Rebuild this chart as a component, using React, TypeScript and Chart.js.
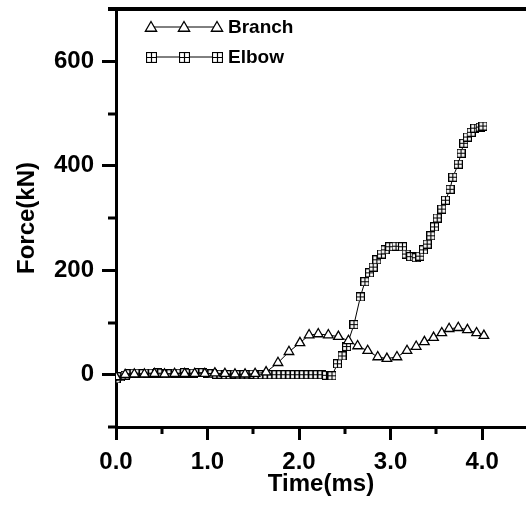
import React, { useEffect, useRef } from 'react';
import { Chart, registerables } from 'chart.js';

Chart.register(...registerables);

const seriesNames = ['Branch', 'Elbow'];

const branchTime = [
  0, 0.1, 0.2, 0.31, 0.42, 0.53, 0.64, 0.75, 0.86, 0.97, 1.08, 1.19, 1.3, 1.41, 1.52, 1.64,
  1.77, 1.89, 2.01, 2.11, 2.21, 2.32, 2.43, 2.54, 2.64, 2.75, 2.86, 2.96, 3.07, 3.18, 3.28,
  3.37, 3.47, 3.56, 3.64, 3.74, 3.84, 3.94, 4.02,
];
const branchForce = [
  -4, 0, 1, 1, 2, 1, 2, 2, 2, 2, 3, 2, 1, 1, 2, 5,
  23, 44, 61, 76, 78, 76, 73, 65, 55, 46, 34, 31, 34, 46, 54,
  63, 71, 80, 88, 90, 86, 80, 75,
];

const elbowTime = [
  0, 0.05, 0.1, 0.15, 0.2, 0.25, 0.3, 0.35, 0.4, 0.45, 0.5, 0.55, 0.6, 0.65, 0.7, 0.75,
  0.8, 0.85, 0.9, 0.95, 1.0, 1.05, 1.1, 1.15, 1.2, 1.25, 1.3, 1.35, 1.4, 1.45, 1.5, 1.55,
  1.6, 1.65, 1.7, 1.75, 1.8, 1.85, 1.9, 1.95, 2.0, 2.05, 2.1, 2.15, 2.2, 2.25, 2.3,
  2.36, 2.42, 2.47, 2.52, 2.6, 2.67, 2.72, 2.77, 2.81, 2.85, 2.9, 2.94, 2.99, 3.06, 3.13,
  3.17, 3.22, 3.28, 3.32, 3.36, 3.4, 3.44, 3.48, 3.51, 3.56, 3.6, 3.65, 3.68, 3.74, 3.77,
  3.8, 3.84, 3.88, 3.92, 3.98, 4.01,
];
const elbowForce = [
  -8, -4, -1, 2, 3, 3, 2, 3, 3, 4, 3, 2, 2, 3, 3, 4,
  3, 3, 4, 4, 3, 2, 1, 1, 0, 0, 1, 0, 0, 0, 1, 0,
  0, 0, 0, 0, 0, 0, 0, 0, 0, 0, 0, 0, 0, 0, -1,
  -2, 21, 36, 54, 96, 149, 178, 195, 206, 220, 231, 239, 245, 246, 245,
  231, 226, 224, 227, 239, 250, 266, 283, 300, 317, 334, 355, 378, 403, 424,
  443, 455, 464, 472, 474, 476,
];

const xMajorTicks = [0, 1, 2, 3, 4];
const xMinorTicks = [0.5, 1.5, 2.5, 3.5];
const yMajorTicks = [0, 200, 400, 600];
const yMinorTicks = [-100, 100, 300, 500, 700];

const FONT = '"Liberation Sans", Arial, sans-serif';

function makeSquare(size: number): HTMLCanvasElement {
  const c = document.createElement('canvas');
  c.width = size;
  c.height = size;
  const g = c.getContext('2d')!;
  g.fillStyle = '#fff';
  g.fillRect(0, 0, size, size);
  g.strokeStyle = '#000';
  g.lineWidth = 1.2;
  g.strokeRect(0.5, 0.5, size - 1, size - 1);
  const m = Math.floor(size / 2) + 0.5;
  g.beginPath();
  g.moveTo(m, 0.5);
  g.lineTo(m, size - 0.5);
  g.moveTo(0.5, m);
  g.lineTo(size - 0.5, m);
  g.stroke();
  return c;
}

function drawTriangle(ctx: CanvasRenderingContext2D, x: number, y: number, r: number) {
  ctx.beginPath();
  ctx.moveTo(x, y - r);
  ctx.lineTo(x + r * Math.sin(Math.PI * 2 / 3), y + r * 0.5);
  ctx.lineTo(x - r * Math.sin(Math.PI * 2 / 3), y + r * 0.5);
  ctx.closePath();
  ctx.fillStyle = '#fff';
  ctx.fill();
  ctx.lineWidth = 1.3;
  ctx.strokeStyle = '#000';
  ctx.stroke();
}

export default function App() {
  const ref = useRef<HTMLCanvasElement | null>(null);

  useEffect(() => {
    if (!ref.current) return;
    const squareMarker = makeSquare(9);
    const legendSquare = makeSquare(11);

    const decor = {
      id: 'decor',
      afterDraw(chart: any) {
        const { ctx, chartArea, scales } = chart;
        const xs = scales.x;
        const ys = scales.y;
        ctx.save();
        ctx.strokeStyle = '#000';
        ctx.lineWidth = 3;
        ctx.beginPath();
        yMinorTicks.forEach((v) => {
          const py = Math.round(ys.getPixelForValue(v));
          ctx.moveTo(chartArea.left - 8, py);
          ctx.lineTo(chartArea.left, py);
        });
        xMinorTicks.forEach((v) => {
          const px = Math.round(xs.getPixelForValue(v));
          ctx.moveTo(px, chartArea.bottom);
          ctx.lineTo(px, chartArea.bottom + 7);
        });
        ctx.stroke();
        ctx.beginPath();
        ctx.lineWidth = 4;
        ctx.moveTo(chartArea.left - 8, chartArea.top);
        ctx.lineTo(chartArea.right, chartArea.top);
        ctx.stroke();

        // legend
        const rows = [27, 57];
        const x0 = chartArea.left + 35;
        const x1 = chartArea.left + 101;
        seriesNames.forEach((name, i) => {
          const y = rows[i];
          ctx.beginPath();
          ctx.lineWidth = 1;
          ctx.strokeStyle = '#000';
          ctx.moveTo(x0, y);
          ctx.lineTo(x1, y);
          ctx.stroke();
          [x0, (x0 + x1) / 2, x1].forEach((mx) => {
            if (i === 0) drawTriangle(ctx, mx, y + 1, 6.5);
            else ctx.drawImage(legendSquare, Math.round(mx - 5.5), Math.round(y - 5.5));
          });
          ctx.fillStyle = '#000';
          ctx.font = `bold 19px ${FONT}`;
          ctx.textBaseline = 'middle';
          ctx.textAlign = 'left';
          ctx.fillText(name, x1 + 11, y + 1);
        });
        ctx.restore();
      },
    };

    const chart = new Chart(ref.current, {
      type: 'scatter',
      data: {
        datasets: [
          {
            label: seriesNames[0],
            data: branchTime.map((t, i) => ({ x: t, y: branchForce[i] })),
            showLine: true,
            borderColor: '#000',
            borderWidth: 1,
            pointStyle: 'triangle',
            pointRadius: 5.5,
            pointBorderWidth: 1.3,
            pointBackgroundColor: '#fff',
            pointBorderColor: '#000',
            tension: 0,
          },
          {
            label: seriesNames[1],
            data: elbowTime.map((t, i) => ({ x: t, y: elbowForce[i] })),
            showLine: true,
            borderColor: '#000',
            borderWidth: 1,
            pointStyle: squareMarker,
            pointRadius: 4.5,
            pointBackgroundColor: '#fff',
            pointBorderColor: '#000',
            tension: 0,
          },
        ],
      },
      options: {
        animation: false,
        responsive: false,
        maintainAspectRatio: false,
        layout: { autoPadding: false, padding: { top: 9, right: 0, left: 0, bottom: 0 } },
        plugins: {
          legend: { display: false },
          tooltip: { enabled: false },
        },
        scales: {
          x: {
            type: 'linear',
            min: 0,
            max: 4.48,
            afterBuildTicks: (scale: any) => {
              scale.ticks = xMajorTicks.map((v) => ({ value: v }));
            },
            afterFit: (scale: any) => {
              scale.height = 82;
              scale.paddingLeft = 0;
              scale.paddingRight = 0;
              scale.paddingTop = 0;
              scale.paddingBottom = 0;
            },
            ticks: {
              color: '#000',
              padding: 8,
              maxRotation: 0,
              autoSkip: false,
              font: { family: FONT, size: 24, weight: 'bold' },
              callback: (v: any) => Number(v).toFixed(1),
            },
            grid: {
              display: true,
              drawOnChartArea: false,
              drawTicks: true,
              tickLength: 13,
              tickWidth: 3,
              tickColor: '#000',
            },
            border: { display: true, width: 3, color: '#000' },
            title: {
              display: true,
              text: 'Time(ms)',
              color: '#000',
              font: { family: FONT, size: 24, weight: 'bold' },
              padding: { top: 0, bottom: 10 },
            },
          },
          y: {
            type: 'linear',
            min: -100,
            max: 700,
            afterBuildTicks: (scale: any) => {
              scale.ticks = yMajorTicks.map((v) => ({ value: v }));
            },
            afterFit: (scale: any) => {
              scale.width = 116;
              scale.paddingLeft = 0;
              scale.paddingRight = 0;
              scale.paddingTop = 0;
              scale.paddingBottom = 0;
            },
            ticks: {
              color: '#000',
              padding: 8,
              autoSkip: false,
              font: { family: FONT, size: 24, weight: 'bold' },
              callback: (v: any) => String(v),
            },
            grid: {
              display: true,
              drawOnChartArea: false,
              drawTicks: true,
              tickLength: 14,
              tickWidth: 3,
              tickColor: '#000',
            },
            border: { display: true, width: 3, color: '#000' },
            title: {
              display: true,
              text: 'Force(kN)',
              color: '#000',
              font: { family: FONT, size: 24, weight: 'bold' },
              padding: { top: 13, bottom: 0 },
            },
          },
        },
      },
      plugins: [decor],
    } as any);

    return () => chart.destroy();
  }, []);

  return (
    <div style={{ position: 'absolute', left: 0, top: 0, width: 526, height: 509, background: '#fff' }}>
      <canvas ref={ref} width={526} height={509} style={{ display: 'block' }} />
    </div>
  );
}
